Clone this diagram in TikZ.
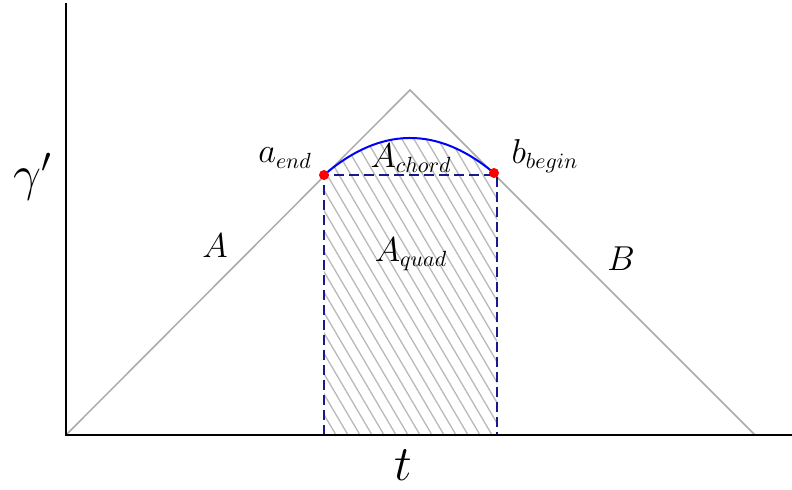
\documentclass[tikz,border=0pt]{standalone}
\usetikzlibrary{positioning}
\definecolor{navyline}{RGB}{25,25,140}
\definecolor{triline}{RGB}{170,170,170}
\definecolor{hatchline}{RGB}{185,185,185}
\tikzset{
	lbl/.style={font=\fontsize{16}{19}\selectfont},
	axlbl/.style={font=\fontsize{25}{30}\selectfont, inner sep=0pt},
	hatch/.style={color=hatchline, line width=0.65pt},
	quadbox/.style={dashed, dash pattern=on 5pt off 2.5pt, color=navyline, line width=0.9pt}
}
\begin{document}
\begin{tikzpicture}[x=0.5pt, y=0.5pt]
	\useasboundingbox (-66,-55) rectangle (726,435);
	\coordinate (O) at (0,0);
	\coordinate (ytop) at (0,432);
	\coordinate (xend) at (726,0);
	\coordinate (peak) at (344,345);
	\coordinate (tend) at (689,0);
	\coordinate (aend) at (258,260);
	\coordinate (bbegin) at (428,262);
	\coordinate (qbl) at (258,0);
	\coordinate (qbr) at (431,0);
	\coordinate (qtr) at (431,260);
	% hatched area under the chord
	\begin{scope}
		\clip (qbl) -- (aend) .. controls (314.7,308.7) and (371.3,309.3) .. (bbegin) -- (qtr) -- (qbr) -- cycle;
		\foreach \i in {0,...,31}
			\draw[hatch] (58+\i*12,340) -- ++(200,-340);
	\end{scope}
	\draw[color=triline, line width=0.75pt] (O) -- (peak) -- (tend);
	\draw[quadbox] (qbl) -- (aend) -- (qtr) -- (qbr);
	\draw[color=blue, line width=1pt] (aend) .. controls (314.7,308.7) and (371.3,309.3) .. (bbegin);
	\fill[red] (aend) circle (2.5pt);
	\fill[red] (bbegin) circle (2.5pt);
	\draw[line width=1pt] (ytop) -- (O) -- (xend);
	\node[lbl] (la) at (219,277) {$a_{end}$};
	\node[lbl] (lchord) at (345,277) {$A_{chord}$};
	\node[lbl] (lb) at (479,279) {$b_{begin}$};
	\node[lbl] (lA) at (149,189) {$A$};
	\node[lbl] (lquad) at (345,181) {$A_{quad}$};
	\node[lbl] (lB) at (555,176) {$B$};
	\node[axlbl] (lgam) at (-33,258) {$\gamma'$};
	\node[axlbl] (lt) at (337,-30) {$t$};
\end{tikzpicture}
\end{document}
